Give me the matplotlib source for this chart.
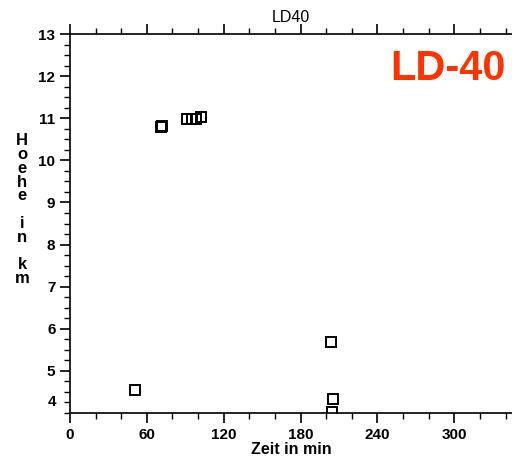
import numpy as np
import matplotlib
matplotlib.use('Agg')
import matplotlib.pyplot as plt
from matplotlib.ticker import MultipleLocator

# Zeit in min, Hoehe in km
zeit = [50.5, 71.3, 71.7, 91.0, 95.0, 98.0, 102.0, 204.0, 205.5, 204.5]
hoehe = [4.54, 10.79, 10.81, 10.98, 10.98, 10.99, 11.03, 5.68, 4.33, 4.02]

x_ticks = [0, 60, 120, 180, 240, 300]
y_ticks = [5, 6, 7, 8, 9, 10, 11, 12, 13]

plt.rcParams['font.family'] = ['Liberation Sans', 'DejaVu Sans']

fig = plt.figure(figsize=(5.12, 4.66), dpi=100)
ax = fig.add_axes([0.1367, 0.1137, 0.8633, 0.8133])

ax.plot(zeit, hoehe, linestyle='none', marker='s', markersize=7.5,
        markerfacecolor='none', markeredgecolor='black', markeredgewidth=1.4,
        clip_on=True)

ax.set_xlim(0, 345)
ax.set_ylim(4, 13)
ax.set_xticks(x_ticks)
ax.set_xticklabels([str(t) for t in x_ticks], fontsize=11, fontweight='bold')
ax.xaxis.set_minor_locator(MultipleLocator(20))
ax.set_yticks(y_ticks)
ax.set_yticklabels([str(t) for t in y_ticks], fontsize=11, fontweight='bold')
ax.yaxis.set_minor_locator(MultipleLocator(0.25))

ax.tick_params(axis='both', which='major', direction='out', length=7, width=1.2)
ax.tick_params(axis='both', which='minor', direction='out', length=4, width=1.0)
ax.tick_params(axis='x', which='both', top=True, labeltop=False)
ax.spines['right'].set_visible(False)
for s in ['left', 'top', 'bottom']:
    ax.spines[s].set_linewidth(1.2)

# "4" label sits a bit higher than its tick
ax.text(-0.03, 4.25, '4', transform=ax.get_yaxis_transform(), ha='right',
        va='center', fontsize=11, fontweight='bold')

ax.set_title('LD40', fontsize=11.5, pad=9)
ax.set_xlabel('Zeit in min', fontsize=11.5, fontweight='bold', labelpad=0)
fig.text(0.043, 0.55, 'H\no\ne\nh\ne\n\ni\nn\n\nk\nm', ha='center', va='center',
         fontsize=12, fontweight='bold', linespacing=0.9)

ax.text(0.985, 0.908, 'LD-40', transform=ax.transAxes, ha='right', va='center',
        fontsize=30, fontweight='bold', color='#ff3300')

fig.savefig('out.png', dpi=100)
